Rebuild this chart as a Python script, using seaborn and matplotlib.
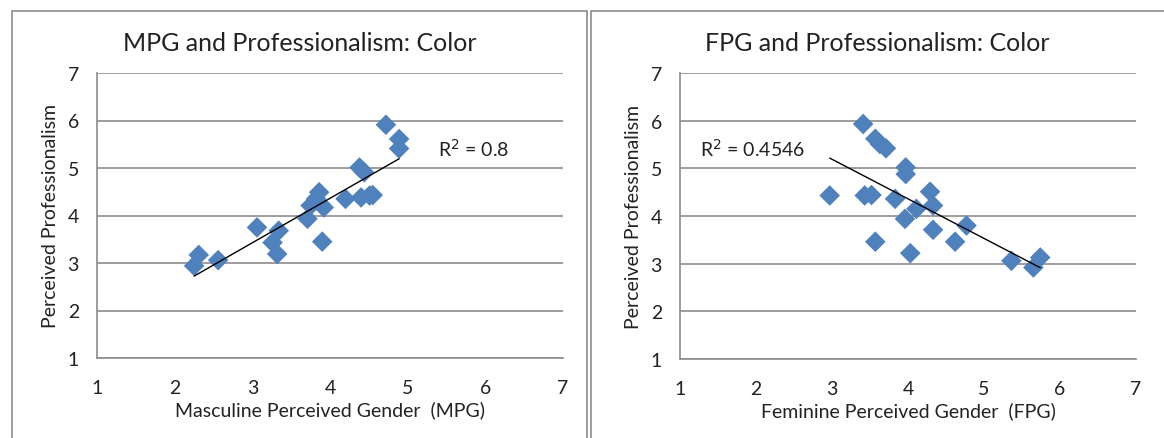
import numpy as np
import pandas as pd
import seaborn as sns
import matplotlib.pyplot as plt
from matplotlib.patches import Rectangle

# valores
mpg_x = [4.72, 4.89, 4.89, 2.25, 2.31, 2.56, 3.06, 3.26, 3.32, 3.34, 3.71,
         3.75, 3.86, 3.92, 3.90, 4.20, 4.38, 4.44, 4.40, 4.55, 4.51, 3.82]
mpg_y = [5.91, 5.61, 5.41, 2.94, 3.17, 3.06, 3.75, 3.43, 3.19, 3.68, 3.93,
         4.21, 4.49, 4.17, 3.45, 4.35, 5.01, 4.91, 4.38, 4.43, 4.42, 4.35]

fpg_x = [3.41, 3.57, 3.63, 3.71, 3.97, 3.97, 2.97, 3.43, 3.52, 3.83, 4.29,
         4.33, 4.11, 3.96, 4.33, 4.77, 4.62, 3.57, 4.03, 5.36, 5.65, 5.74]
fpg_y = [5.93, 5.62, 5.51, 5.42, 5.02, 4.88, 4.43, 4.43, 4.44, 4.36, 4.51,
         4.22, 4.15, 3.94, 3.71, 3.80, 3.46, 3.46, 3.22, 3.06, 2.92, 3.13]

titles = ['MPG and Professionalism: Color', 'FPG and Professionalism: Color']
xlabels = ['Masculine Perceived Gender  (MPG)', 'Feminine Perceived Gender  (FPG)']
r2_labels = ['R$^2$ = 0.8', 'R$^2$ = 0.4546']
r2_pos = [(5.39, 5.42), (1.26, 5.42)]

sns.set_style('white')
plt.rcParams['font.family'] = ['Lato', 'DejaVu Sans']

fig = plt.figure(figsize=(11.64, 4.39), dpi=100)
ax1 = fig.add_axes([97 / 1164, 80 / 439, 466 / 1164, 285 / 439])
ax2 = fig.add_axes([680 / 1164, 79 / 439, 456 / 1164, 286 / 439])

# molduras dos gráficos
fig.patches.append(Rectangle((12 / 1164, -0.1), 575 / 1164, 1.1 - 12 / 439,
                             transform=fig.transFigure, fill=False,
                             edgecolor='#8c8c8c', lw=1.2))
fig.patches.append(Rectangle((591 / 1164, -0.1), 600 / 1164, 1.1 - 12 / 439,
                             transform=fig.transFigure, fill=False,
                             edgecolor='#8c8c8c', lw=1.2))

dados = [(mpg_x, mpg_y), (fpg_x, fpg_y)]
title_x = [(12 + 587) / 2 / 1164, (591 + 1164) / 2 / 1164]

for i, ax in enumerate([ax1, ax2]):
    df = pd.DataFrame({'x': dados[i][0], 'y': dados[i][1]})
    sns.scatterplot(data=df, x='x', y='y', ax=ax, marker='D', s=110,
                    color='#4f81bd', edgecolor='none', zorder=3)
    sns.regplot(data=df, x='x', y='y', ax=ax, scatter=False, ci=None,
                line_kws={'color': 'black', 'lw': 1, 'zorder': 4})
    ax.set_xlim(1, 7)
    ax.set_ylim(1, 7)
    ax.set_xticks(range(1, 8))
    ax.set_yticks(range(1, 8))
    ax.grid(axis='y', color='#8c8c8c', lw=1.2)
    ax.set_axisbelow(True)
    for s in ['top', 'right']:
        ax.spines[s].set_visible(False)
    for s in ['left', 'bottom']:
        ax.spines[s].set_color('#8c8c8c')
        ax.spines[s].set_linewidth(1.2)
    ax.tick_params(axis='both', direction='out', length=5, width=1.2,
                   color='#8c8c8c', labelsize=14, labelcolor='#222222')
    ax.tick_params(axis='x', pad=10)
    ax.tick_params(axis='y', pad=8)
    ax.set_xlabel(xlabels[i], fontsize=14, color='#222222', labelpad=3)
    ax.set_ylabel('Perceived Professionalism', fontsize=14, color='#222222',
                  labelpad=6)
    ax.text(r2_pos[i][0], r2_pos[i][1], r2_labels[i], fontsize=14,
            va='center', ha='left', color='#222222')
    fig.text(title_x[i], 0.9, titles[i], fontsize=18, ha='center',
             va='center', color='#222222')

plt.savefig('out.png', dpi=100)
